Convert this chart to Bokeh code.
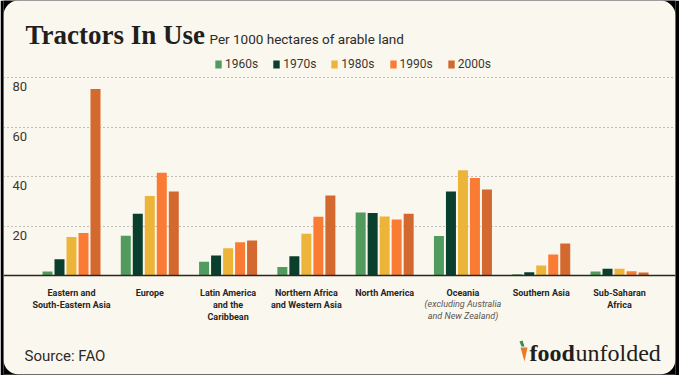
from bokeh.plotting import figure
from bokeh.models import Range1d, BoxAnnotation, Grid, FixedTicker, Span, Legend, LegendItem, ColumnDataSource
from bokeh.transform import dodge
from bokeh.core.properties import value
from bokeh.embed import file_html
from bokeh.resources import INLINE

# ---------------- data ----------------
regions = ["Eastern and\nSouth-Eastern Asia", "Europe", "Latin America\nand the\nCaribbean",
           "Northern Africa\nand Western Asia", "North America", "Oceania",
           "Southern Asia", "Sub-Saharan\nAfrica"]
oceania_note = "(excluding Australia\nand New Zealand)"
decades = ["1960s", "1970s", "1980s", "1990s", "2000s"]
v1960s = [1.6, 16.1, 5.6, 3.4, 25.5, 16.0, 0.5, 1.6]
v1970s = [6.6, 25.0, 8.1, 7.8, 25.3, 33.9, 1.3, 2.7]
v1980s = [15.6, 32.1, 11.0, 16.9, 23.8, 42.5, 4.0, 2.7]
v1990s = [17.2, 41.5, 13.4, 23.7, 22.6, 39.4, 8.5, 1.7]
v2000s = [75.4, 33.9, 14.1, 32.3, 25.0, 34.7, 12.9, 1.2]
y_ticks = [20, 40, 60, 80]
y_tick_labels = ["20", "40", "60", "80"]
title = "Tractors In Use"
subtitle = "Per 1000 hectares of arable land"
source_text = "Source: FAO"

# ---------------- style ----------------
colors = ["#519B5E", "#0B3F2D", "#EDB43A", "#FA7C34", "#D4692F"]
CARD = "#FAF7EE"
INK = "#221E1B"
SANS = value("Roboto")
SERIF = value("Liberation Serif")

W, H = 679, 375
ML, MR, MT, MB = 3, 4, 0, 1
FW, FH = W - ML - MR, H - MT - MB
PPX = 78.29          # px per category
PPY = 2.475          # px per unit
C0 = 68              # frame px of first category centre
BASE = 275           # frame px of zero line (from top)

x_start = -C0 / PPX
y_end = BASE / PPY

def dx(fx):
    return x_start + fx / PPX

def dy(fy):
    return (BASE - fy) / PPY

p = figure(width=W, height=H, output_backend="svg", toolbar_location=None,
           x_range=Range1d(x_start, x_start + FW / PPX),
           y_range=Range1d(y_end - FH / PPY, y_end),
           x_axis_type=None, y_axis_type=None,
           min_border_left=ML, min_border_right=MR, min_border_top=MT, min_border_bottom=MB,
           background_fill_color="#000000", border_fill_color="#000000",
           outline_line_color=None)

card = BoxAnnotation(fill_color=CARD, fill_alpha=1, line_color=None, border_radius=15, level="image")
p.add_layout(card)

grid = Grid(dimension=1, ticker=FixedTicker(ticks=y_ticks), grid_line_color="#8c8782",
            grid_line_dash="1 3", grid_line_width=1)
p.add_layout(grid)

src = ColumnDataSource(dict(idx=list(range(len(regions))), v1960s=v1960s, v1970s=v1970s,
                            v1980s=v1980s, v1990s=v1990s, v2000s=v2000s))
fields = ["v1960s", "v1970s", "v1980s", "v1990s", "v2000s"]
offsets = [-2, -1, 0, 1, 2]
STEP = 12 / PPX
items = []
for f, o, c, d in zip(fields, offsets, colors, decades):
    r = p.vbar(x=dodge("idx", o * STEP, range=p.x_range), top=f, width=10 / PPX,
               source=src, fill_color=c, line_color=None)
    items.append(LegendItem(label=d, renderers=[r]))

p.add_layout(Span(location=0, dimension="width", line_color="#2a2622", line_width=1.5))

legend = Legend(items=items, orientation="horizontal", location=(211, FH - 71),
                glyph_width=8, glyph_height=10, label_height=10, label_standoff=3,
                spacing=14, padding=0, margin=0, background_fill_alpha=0,
                border_line_color=None, label_text_font_size="12px",
                label_text_color="#3a3633", label_text_font="Roboto",
                label_text_baseline="middle")
p.add_layout(legend)

# y tick labels (below each grid line)
p.text(x=[dx(9)] * len(y_ticks), y=y_ticks, text=y_tick_labels, text_baseline="middle",
       y_offset=9, text_font=SANS, text_font_size="13px", text_color="#3a3633")

# category labels
p.text(x=list(range(len(regions))), y=[0] * len(regions), text=regions, text_align="center",
       text_baseline="top", y_offset=12.5, text_font=SANS, text_font_style="bold",
       text_font_size="9px", text_line_height=1.22, text_color="#2a2622")
p.text(x=[regions.index("Oceania")], y=[0], text=[oceania_note], text_align="center",
       text_baseline="top", y_offset=23.5, text_font=SANS, text_font_style="italic",
       text_font_size="9px", text_line_height=1.22, text_color="#5a5550")

# title & subtitle
p.text(x=[dx(22)], y=[dy(34)], text=[title], text_baseline="middle", text_font=SERIF,
       text_font_style="bold", text_font_size="27px", text_color=INK)
p.text(x=[dx(206)], y=[dy(38)], text=[subtitle], text_baseline="middle", text_font=SANS,
       text_font_size="13.5px", text_color="#2e2a27")

# source & logo
p.text(x=[dx(21)], y=[dy(355)], text=[source_text], text_baseline="middle", text_font=SANS,
       text_font_size="15px", text_color="#2e2a27")
p.text(x=[dx(526)], y=[dy(352)], text=["food"], text_baseline="middle", text_font=SERIF,
       text_font_style="bold", text_font_size="24px", text_color=INK)
p.text(x=[dx(572)], y=[dy(352)], text=["unfolded"], text_baseline="middle", text_font=SERIF,
       text_font_size="24px", text_color=INK)
p.patch(x=[dx(517), dx(524), dx(521)], y=[dy(347), dy(347), dy(361)],
        fill_color="#E87A2E", line_color=None)
p.patch(x=[dx(516), dx(519), dx(521), dx(518)], y=[dy(341), dy(340), dy(346), dy(346)],
        fill_color="#3D8A4E", line_color=None)

html = file_html(p, INLINE, title="Tractors In Use")
html = html.replace("<body>", '<body style="background-color:#000000;">', 1)
open("out.html", "w").write(html)
